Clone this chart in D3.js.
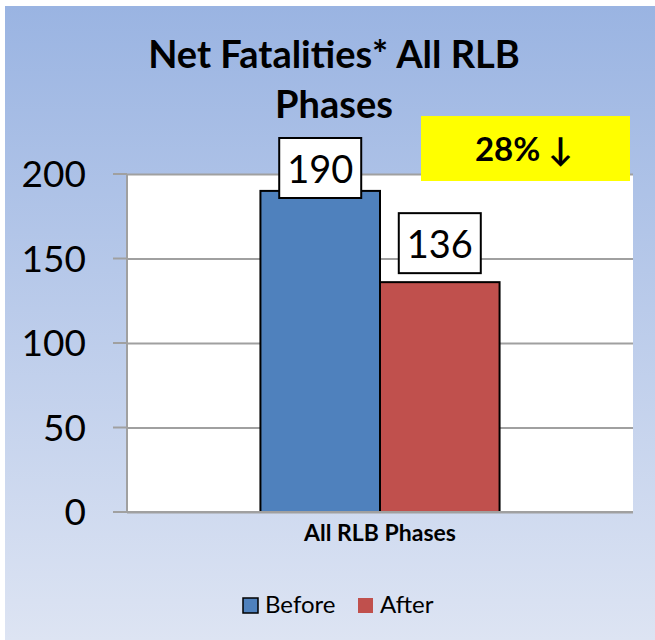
<!DOCTYPE html>
<html><head><meta charset="utf-8">
<script src="https://cdn.jsdelivr.net/npm/d3@7"></script>
<style>html,body{margin:0;padding:0;background:#fff;}svg{display:block;}</style>
</head><body>
<script>
const categories = ["All RLB Phases"];
const seriesNames = ["Before", "After"];
const seriesValues = [190, 136];
const seriesColors = ["#4f81bd", "#c0504d"];
const yTicks = [0, 50, 100, 150, 200];
const titleLines = ["Net Fatalities* All RLB", "Phases"];
const badgeText = "28% \u2193";

const W = 655, H = 640;
const font = "Lato, 'Open Sans', sans-serif";
const svg = d3.select("body").append("svg").attr("width", W).attr("height", H);
const defs = svg.append("defs");
const g = defs.append("linearGradient").attr("id","bg").attr("x1",0).attr("y1",0).attr("x2",0).attr("y2",1);
g.append("stop").attr("offset","0%").attr("stop-color","#9ab4e2");
g.append("stop").attr("offset","100%").attr("stop-color","#dde4f3");
svg.append("rect").attr("width",W).attr("height",H).attr("fill","#fff");
svg.append("rect").attr("x",5).attr("y",6).attr("width",W-5).attr("height",H-6).attr("fill","url(#bg)");

const plot = {left:127, right:633, top:174, bottom:512};
const y = d3.scaleLinear().domain([0,200]).range([plot.bottom, plot.top]);
const x0 = d3.scaleBand().domain(categories).range([plot.left, plot.right]).paddingInner(0).paddingOuter(0.558);
const x1 = d3.scaleBand().domain(seriesNames).range([0, x0.bandwidth()]);

svg.append("rect").attr("x",plot.left).attr("y",plot.top).attr("width",plot.right-plot.left).attr("height",plot.bottom-plot.top).attr("fill","#fff");

// gridlines
const yAxis = d3.axisLeft(y).tickValues(yTicks).tickSize(-(plot.right-plot.left)).tickPadding(0).tickFormat("");
const ga = svg.append("g").attr("transform",`translate(${plot.left},0)`).call(yAxis);
ga.select(".domain").remove();
ga.selectAll(".tick line").attr("stroke","#a0a0a0").attr("stroke-width",2);
// tick marks outside
svg.append("g").selectAll("line").data(yTicks).join("line")
  .attr("x1",plot.left-14).attr("x2",plot.left).attr("y1",d=>y(d)).attr("y2",d=>y(d))
  .attr("stroke","#a0a0a0").attr("stroke-width",2);
svg.append("line").attr("x1",plot.left).attr("x2",plot.left).attr("y1",plot.top).attr("y2",plot.bottom)
  .attr("stroke","#a0a0a0").attr("stroke-width",2);
svg.append("g").selectAll("text").data(yTicks).join("text")
  .attr("x",86).attr("y",d=>y(d)).attr("dy","0.36em").attr("text-anchor","end")
  .attr("font-family",font).attr("font-size",37).attr("fill","#000").text(d=>d);

// bars
const cat = categories[0];
const bars = seriesNames.map((s,i)=>({s, v:seriesValues[i], c:seriesColors[i]}));
svg.append("g").selectAll("rect").data(bars).join("rect")
  .attr("x",d=>x0(cat)+x1(d.s)).attr("width",x1.bandwidth())
  .attr("y",d=>y(d.v)).attr("height",d=>y(0)-y(d.v))
  .attr("fill",d=>d.c).attr("stroke","#000").attr("stroke-width",2);

// data labels
const bw = 82, bh = 60;
const lab = svg.append("g");
bars.forEach(d=>{
  const cx = x0(cat)+x1(d.s)+x1.bandwidth()/2;
  const top = Math.max(y(d.v)-9-bh, plot.top-36);
  lab.append("rect").attr("x",cx-bw/2).attr("y",top).attr("width",bw).attr("height",bh)
    .attr("fill","#fff").attr("stroke","#000").attr("stroke-width",2);
  lab.append("text").attr("x",cx).attr("y",top+45).attr("text-anchor","middle")
    .attr("font-family",font).attr("font-size",38).attr("fill","#000").text(d.v);
});

// x axis line
svg.append("line").attr("x1",plot.left-14).attr("x2",plot.right).attr("y1",plot.bottom).attr("y2",plot.bottom)
  .attr("stroke","#a0a0a0").attr("stroke-width",2);
svg.append("text").attr("x",x0(cat)+x0.bandwidth()/2).attr("y",541).attr("text-anchor","middle")
  .attr("font-family",font).attr("font-weight","bold").attr("font-size",23).attr("fill","#000").text(cat);

// title
svg.append("g").selectAll("text").data(titleLines).join("text")
  .attr("x",334).attr("y",(d,i)=>68+i*50).attr("text-anchor","middle")
  .attr("font-family",font).attr("font-weight","bold").attr("font-size",38).attr("fill","#000").text(d=>d);

// badge
svg.append("rect").attr("x",421).attr("y",116).attr("width",209).attr("height",65).attr("fill","#ffff00");
svg.append("text").attr("x",524).attr("y",161).attr("text-anchor","middle")
  .attr("font-family",font).attr("font-weight","bold").attr("font-size",33).attr("fill","#000").text(badgeText);

// legend
const legX = [243, 358];
const leg = svg.append("g");
bars.forEach((d,i)=>{
  leg.append("rect").attr("x",legX[i]).attr("y",598).attr("width",15).attr("height",15)
    .attr("fill",d.c).attr("stroke", i===0?"#000":"none").attr("stroke-width",1.5);
  leg.append("text").attr("x",legX[i]+22).attr("y",613).attr("font-family",font)
    .attr("font-size",24).attr("fill","#000").text(d.s);
});
</script>
</body></html>
